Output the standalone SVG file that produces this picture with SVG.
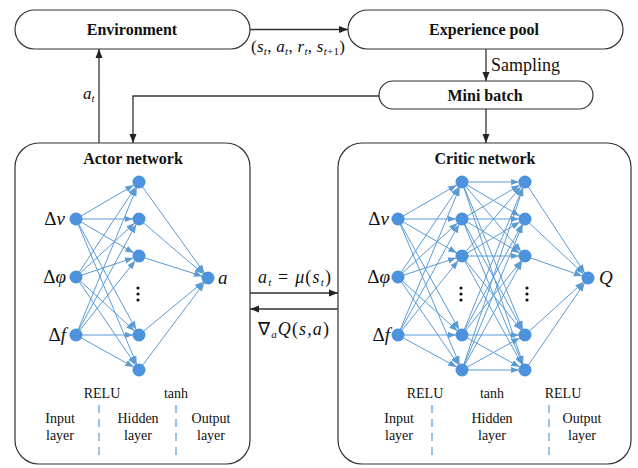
<svg xmlns="http://www.w3.org/2000/svg" width="638" height="468" viewBox="0 0 638 468">
<style>
.box{fill:#fff;stroke:#333;stroke-width:1.2}
text{font-family:'Liberation Serif','Times New Roman',serif;fill:#111}
.b{font-weight:bold;font-size:16px}
.r{font-size:14px}
.m{font-size:18px}
.i{font-style:italic}
.s{font-size:11px}
.k{stroke:#333;stroke-width:1.3;fill:none}
.e{stroke:#5B9BD5;stroke-width:1;fill:none;marker-end:url(#ba)}
.n{fill:#4D92DC}
.d{stroke:#5B9BD5;stroke-width:1.2;stroke-dasharray:8,6}
.dot{fill:#111}
</style>
<defs>
<marker id="ka" markerUnits="userSpaceOnUse" viewBox="0 0 9 8" markerWidth="9" markerHeight="8" refX="9" refY="4" orient="auto"><path d="M0,0.5 L9,4 L0,7.5 Z" fill="#222"/></marker>
<marker id="ba" markerUnits="userSpaceOnUse" viewBox="0 0 16 8" markerWidth="16" markerHeight="8" refX="14.5" refY="4" orient="auto"><path d="M0,0.8 L8.5,4 L0,7.2 Z" fill="#5B9BD5"/></marker>
</defs>
<g id="environment"><rect class="box" x="15" y="10" width="235" height="39" rx="19.5"/><text class="b" x="132" y="35" text-anchor="middle">Environment</text></g>
<g id="experience-pool"><rect class="box" x="348" y="10" width="275" height="39" rx="19.5"/><text class="b" x="484" y="35" text-anchor="middle">Experience pool</text></g>
<g id="mini-batch"><rect class="box" x="379" y="81" width="214" height="28" rx="14"/><text class="b" x="485" y="101" text-anchor="middle">Mini batch</text></g>

<g id="connectors">
<line class="k" x1="250" y1="29.5" x2="348" y2="29.5" marker-end="url(#ka)"/>
<line class="k" x1="486" y1="49" x2="486" y2="81" marker-end="url(#ka)"/>
<path class="k" d="M379,96 H133 V143" marker-end="url(#ka)"/>
<line class="k" x1="486" y1="109" x2="486" y2="143" marker-end="url(#ka)"/>
<line class="k" x1="99" y1="143" x2="99" y2="49" marker-end="url(#ka)"/>
<line class="k" x1="250" y1="293" x2="338" y2="293" marker-end="url(#ka)"/>
<line class="k" x1="338" y1="309" x2="250" y2="309" marker-end="url(#ka)"/>
<text x="251" y="52" style="font-size:17px" textLength="94" lengthAdjust="spacing">(<tspan class="i">s</tspan><tspan dy="3" class="i s">t</tspan><tspan dy="-3">, </tspan><tspan class="i">a</tspan><tspan dy="3" class="i s">t</tspan><tspan dy="-3">, </tspan><tspan class="i">r</tspan><tspan dy="3" class="i s">t</tspan><tspan dy="-3">, </tspan><tspan class="i">s</tspan><tspan dy="3" class="s"><tspan class="i">t</tspan>+1</tspan><tspan dy="-3">)</tspan></text>
<text x="491" y="71" style="font-size:18px">Sampling</text>
<text class="i" x="83" y="99" style="font-size:17px">a<tspan dy="3" class="s">t</tspan></text>
<text class="m" x="258" y="283" textLength="73" lengthAdjust="spacing"><tspan class="i">a</tspan><tspan dy="3" class="i s">t</tspan><tspan dy="-3"> = </tspan><tspan class="i">μ</tspan>(<tspan class="i">s</tspan><tspan dy="3" class="i s">t</tspan><tspan dy="-3">)</tspan></text>
<text class="m" x="258" y="335" textLength="71" lengthAdjust="spacing">∇<tspan dy="3" class="i s">a</tspan><tspan dy="-3" class="i">Q</tspan>(<tspan class="i">s</tspan>,<tspan class="i">a</tspan>)</text>
</g>

<g id="actor-network">
<rect class="box" x="15" y="143" width="235" height="321" rx="24"/>
<text class="b" x="133" y="164" text-anchor="middle">Actor network</text>
<g>
<line class="e" x1="76" y1="219" x2="139" y2="182"/><line class="e" x1="76" y1="219" x2="139" y2="219"/><line class="e" x1="76" y1="219" x2="139" y2="256"/><line class="e" x1="76" y1="219" x2="139" y2="335"/><line class="e" x1="76" y1="219" x2="139" y2="370"/>
<line class="e" x1="76" y1="277" x2="139" y2="182"/><line class="e" x1="76" y1="277" x2="139" y2="219"/><line class="e" x1="76" y1="277" x2="139" y2="256"/><line class="e" x1="76" y1="277" x2="139" y2="335"/><line class="e" x1="76" y1="277" x2="139" y2="370"/>
<line class="e" x1="76" y1="335" x2="139" y2="182"/><line class="e" x1="76" y1="335" x2="139" y2="219"/><line class="e" x1="76" y1="335" x2="139" y2="256"/><line class="e" x1="76" y1="335" x2="139" y2="335"/><line class="e" x1="76" y1="335" x2="139" y2="370"/>
<line class="e" x1="139" y1="182" x2="208" y2="278"/><line class="e" x1="139" y1="219" x2="208" y2="278"/><line class="e" x1="139" y1="256" x2="208" y2="278"/><line class="e" x1="139" y1="335" x2="208" y2="278"/><line class="e" x1="139" y1="370" x2="208" y2="278"/>
</g>
<circle class="n" cx="76" cy="219" r="6.5"/><circle class="n" cx="76" cy="277" r="6.5"/><circle class="n" cx="76" cy="335" r="6.5"/>
<circle class="n" cx="139" cy="182" r="6.5"/><circle class="n" cx="139" cy="219" r="6.5"/><circle class="n" cx="139" cy="256" r="6.5"/><circle class="n" cx="139" cy="335" r="6.5"/><circle class="n" cx="139" cy="370" r="6.5"/>
<circle class="n" cx="208" cy="278" r="6.5"/>
<circle class="dot" cx="138" cy="288" r="1.6"/><circle class="dot" cx="138" cy="294" r="1.6"/><circle class="dot" cx="138" cy="300" r="1.6"/>
<text x="65" y="225" text-anchor="end" style="font-size:19px">Δ<tspan class="i">v</tspan></text>
<text x="66" y="283" text-anchor="end" style="font-size:19px">Δ<tspan class="i">φ</tspan></text>
<text x="66" y="341" text-anchor="end" style="font-size:19px">Δ<tspan class="i">f</tspan></text>
<text class="i" x="218" y="284" style="font-size:19px">a</text>
<text class="r" x="102" y="398" text-anchor="middle">RELU</text>
<text class="r" x="176" y="398" text-anchor="middle">tanh</text>
<line class="d" x1="99" y1="405" x2="99" y2="455"/>
<line class="d" x1="176" y1="405" x2="176" y2="455"/>
<text class="r" x="60" y="423" text-anchor="middle">Input</text><text class="r" x="60" y="440" text-anchor="middle">layer</text>
<text class="r" x="138" y="423" text-anchor="middle">Hidden</text><text class="r" x="138" y="440" text-anchor="middle">layer</text>
<text class="r" x="211" y="423" text-anchor="middle">Output</text><text class="r" x="211" y="440" text-anchor="middle">layer</text>
</g>

<g id="critic-network">
<rect class="box" x="338" y="143" width="293" height="321" rx="24"/>
<text class="b" x="485" y="164" text-anchor="middle">Critic network</text>
<g>
<line class="e" x1="398" y1="219" x2="462" y2="182"/><line class="e" x1="398" y1="219" x2="462" y2="219"/><line class="e" x1="398" y1="219" x2="462" y2="256"/><line class="e" x1="398" y1="219" x2="462" y2="335"/><line class="e" x1="398" y1="219" x2="462" y2="370"/>
<line class="e" x1="398" y1="277" x2="462" y2="182"/><line class="e" x1="398" y1="277" x2="462" y2="219"/><line class="e" x1="398" y1="277" x2="462" y2="256"/><line class="e" x1="398" y1="277" x2="462" y2="335"/><line class="e" x1="398" y1="277" x2="462" y2="370"/>
<line class="e" x1="398" y1="335" x2="462" y2="182"/><line class="e" x1="398" y1="335" x2="462" y2="219"/><line class="e" x1="398" y1="335" x2="462" y2="256"/><line class="e" x1="398" y1="335" x2="462" y2="335"/><line class="e" x1="398" y1="335" x2="462" y2="370"/>
<line class="e" x1="462" y1="182" x2="525" y2="182"/><line class="e" x1="462" y1="182" x2="525" y2="219"/><line class="e" x1="462" y1="182" x2="525" y2="256"/><line class="e" x1="462" y1="182" x2="525" y2="335"/><line class="e" x1="462" y1="182" x2="525" y2="370"/>
<line class="e" x1="462" y1="219" x2="525" y2="182"/><line class="e" x1="462" y1="219" x2="525" y2="219"/><line class="e" x1="462" y1="219" x2="525" y2="256"/><line class="e" x1="462" y1="219" x2="525" y2="335"/><line class="e" x1="462" y1="219" x2="525" y2="370"/>
<line class="e" x1="462" y1="256" x2="525" y2="182"/><line class="e" x1="462" y1="256" x2="525" y2="219"/><line class="e" x1="462" y1="256" x2="525" y2="256"/><line class="e" x1="462" y1="256" x2="525" y2="335"/><line class="e" x1="462" y1="256" x2="525" y2="370"/>
<line class="e" x1="462" y1="335" x2="525" y2="182"/><line class="e" x1="462" y1="335" x2="525" y2="219"/><line class="e" x1="462" y1="335" x2="525" y2="256"/><line class="e" x1="462" y1="335" x2="525" y2="335"/><line class="e" x1="462" y1="335" x2="525" y2="370"/>
<line class="e" x1="462" y1="370" x2="525" y2="182"/><line class="e" x1="462" y1="370" x2="525" y2="219"/><line class="e" x1="462" y1="370" x2="525" y2="256"/><line class="e" x1="462" y1="370" x2="525" y2="335"/><line class="e" x1="462" y1="370" x2="525" y2="370"/>
<line class="e" x1="525" y1="182" x2="588" y2="278"/><line class="e" x1="525" y1="219" x2="588" y2="278"/><line class="e" x1="525" y1="256" x2="588" y2="278"/><line class="e" x1="525" y1="335" x2="588" y2="278"/><line class="e" x1="525" y1="370" x2="588" y2="278"/>
</g>
<circle class="n" cx="398" cy="219" r="6.5"/><circle class="n" cx="398" cy="277" r="6.5"/><circle class="n" cx="398" cy="335" r="6.5"/>
<circle class="n" cx="462" cy="182" r="6.5"/><circle class="n" cx="462" cy="219" r="6.5"/><circle class="n" cx="462" cy="256" r="6.5"/><circle class="n" cx="462" cy="335" r="6.5"/><circle class="n" cx="462" cy="370" r="6.5"/>
<circle class="n" cx="525" cy="182" r="6.5"/><circle class="n" cx="525" cy="219" r="6.5"/><circle class="n" cx="525" cy="256" r="6.5"/><circle class="n" cx="525" cy="335" r="6.5"/><circle class="n" cx="525" cy="370" r="6.5"/>
<circle class="n" cx="588" cy="278" r="6.5"/>
<circle class="dot" cx="461" cy="288" r="1.6"/><circle class="dot" cx="461" cy="294" r="1.6"/><circle class="dot" cx="461" cy="300" r="1.6"/>
<circle class="dot" cx="527" cy="288" r="1.6"/><circle class="dot" cx="527" cy="294" r="1.6"/><circle class="dot" cx="527" cy="300" r="1.6"/>
<text x="389" y="225" text-anchor="end" style="font-size:19px">Δ<tspan class="i">v</tspan></text>
<text x="390" y="283" text-anchor="end" style="font-size:19px">Δ<tspan class="i">φ</tspan></text>
<text x="390" y="341" text-anchor="end" style="font-size:19px">Δ<tspan class="i">f</tspan></text>
<text class="i" x="599" y="284" style="font-size:19px">Q</text>
<text class="r" x="425" y="398" text-anchor="middle">RELU</text>
<text class="r" x="492" y="398" text-anchor="middle">tanh</text>
<text class="r" x="563" y="398" text-anchor="middle">RELU</text>
<line class="d" x1="432" y1="405" x2="432" y2="455"/>
<line class="d" x1="549" y1="405" x2="549" y2="455"/>
<text class="r" x="399" y="423" text-anchor="middle">Input</text><text class="r" x="399" y="440" text-anchor="middle">layer</text>
<text class="r" x="492" y="423" text-anchor="middle">Hidden</text><text class="r" x="492" y="440" text-anchor="middle">layer</text>
<text class="r" x="582" y="423" text-anchor="middle">Output</text><text class="r" x="582" y="440" text-anchor="middle">layer</text>
</g>
</svg>
